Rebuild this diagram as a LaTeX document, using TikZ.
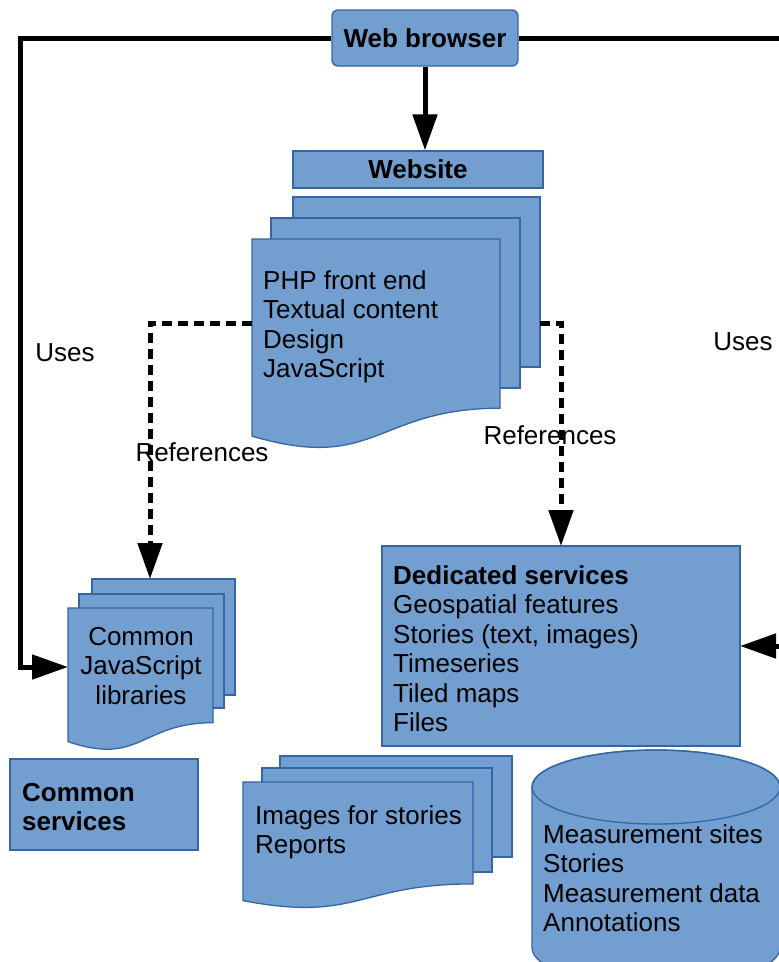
\documentclass[tikz,border=0pt]{standalone}
\usepackage{fontspec}
\setmainfont{Liberation Sans}
\usetikzlibrary{arrows.meta}
\definecolor{boxfill}{HTML}{729FCF}
\definecolor{boxline}{HTML}{3465A4}
\begin{document}
\begin{tikzpicture}[x=1pt,y=-1pt,
  shapebox/.style={draw=boxline, fill=boxfill, line width=1.3pt},
  pagebox/.style={shapebox, inner sep=0pt, outer sep=0pt, anchor=north west},
  txt/.style={font=\fontsize{26}{29.5}\selectfont, inner sep=0pt, align=left, text=black},
  btxt/.style={txt, font=\bfseries\fontsize{26}{29.5}\selectfont},
  conn/.style={line width=5pt, -{Triangle[length=36pt,width=24pt]}},
  dconn/.style={conn, dash pattern=on 10pt off 6pt},
]
\useasboundingbox (0,0) rectangle (779,962);
\clip (0,0) rectangle (779,962);

% Web browser
\node[shapebox, rounded corners=6pt, minimum width=186pt, minimum height=56pt, inner sep=0pt, btxt] (wb) at (425,38) {Web browser};

% Website
\node[shapebox, minimum width=250pt, minimum height=37pt, inner sep=0pt, btxt] (website) at (418,169.5) {Website};
\node[pagebox, minimum width=247pt, minimum height=170pt] (webback1) at (293,197) {};
\node[pagebox, minimum width=249pt, minimum height=170pt] (webback2) at (271,218) {};
\path[shapebox] (252,239) -- (500,239) -- (500,408.2) .. controls (376,408.2) and (376,472.8) .. (252,436.1) -- cycle;
\node[txt, anchor=north west] (phptext) at (263,270) {PHP front end\\Textual content\\Design\\JavaScript};

% Common JavaScript libraries
\node[pagebox, minimum width=143pt, minimum height=116pt] (jsback1) at (92,579) {};
\node[pagebox, minimum width=145pt, minimum height=114pt] (jsback2) at (79,594) {};
\path[shapebox] (68,608) -- (213,608) -- (213,722.7) .. controls (140.5,722.7) and (140.5,766.4) .. (68,741.6) -- cycle;
\node[txt, align=center, anchor=north] (jstext) at (141,627) {Common\\JavaScript\\libraries};

% Common services
\node[pagebox, minimum width=188pt, minimum height=91pt] (commonsrv) at (10,759) {};
\node[btxt, anchor=north west] (commontext) at (22,783) {Common\\services};

% Dedicated services
\node[pagebox, minimum width=358pt, minimum height=200pt] (ded) at (382,546) {};
\node[txt, anchor=north west] (dedtext) at (393,565) {\textbf{Dedicated services}\\Geospatial features\\Stories (text, images)\\Timeseries\\Tiled maps\\Files};

% Images for stories
\node[pagebox, minimum width=232pt, minimum height=101pt] (imgback1) at (280,756) {};
\node[pagebox, minimum width=230pt, minimum height=104pt] (imgback2) at (262,768) {};
\path[shapebox] (243,782) -- (473,782) -- (473,883.9) .. controls (358,883.9) and (358,922.7) .. (243,900.6) -- cycle;
\node[txt, anchor=north west] (imgtext) at (255,805) {Images for stories\\Reports};

% Database cylinder
\path[shapebox] (532,787) -- (532,948) arc[start angle=180, end angle=360, x radius=124pt, y radius=37pt] -- (780,787) arc[start angle=0, end angle=180, x radius=124pt, y radius=37pt] -- cycle;
\draw[boxline, line width=1.3pt] (656,787) ellipse [x radius=124pt, y radius=37pt];
\node[txt, anchor=north west] (dbtext) at (543,824) {Measurement sites\\Stories\\Measurement data\\Annotations};

% Connectors
\coordinate (leftrail) at (20,38);
\coordinate (rightrail) at (800,38);
\coordinate (jsin) at (68,667);
\coordinate (phpL) at (252,323);
\coordinate (phpR) at (540,323);
\coordinate (jstop) at (150,579);
\draw[conn] (wb.south) -- (wb.south |- website.north);
\draw[conn] (wb.west) -- (leftrail) |- (jsin);
\draw[conn] (wb.east) -- (rightrail) |- (ded.east);
\draw[dconn] (phpL) -| (jstop);
\draw[dconn] (phpR) -| (ded.north);

% Labels
\node[txt] (usesL) at (65,353) {Uses};
\node[txt] (usesR) at (743,342) {Uses};
\node[txt] (refL) at (202,452) {References};
\node[txt] (refR) at (550,435) {References};
\end{tikzpicture}
\end{document}
